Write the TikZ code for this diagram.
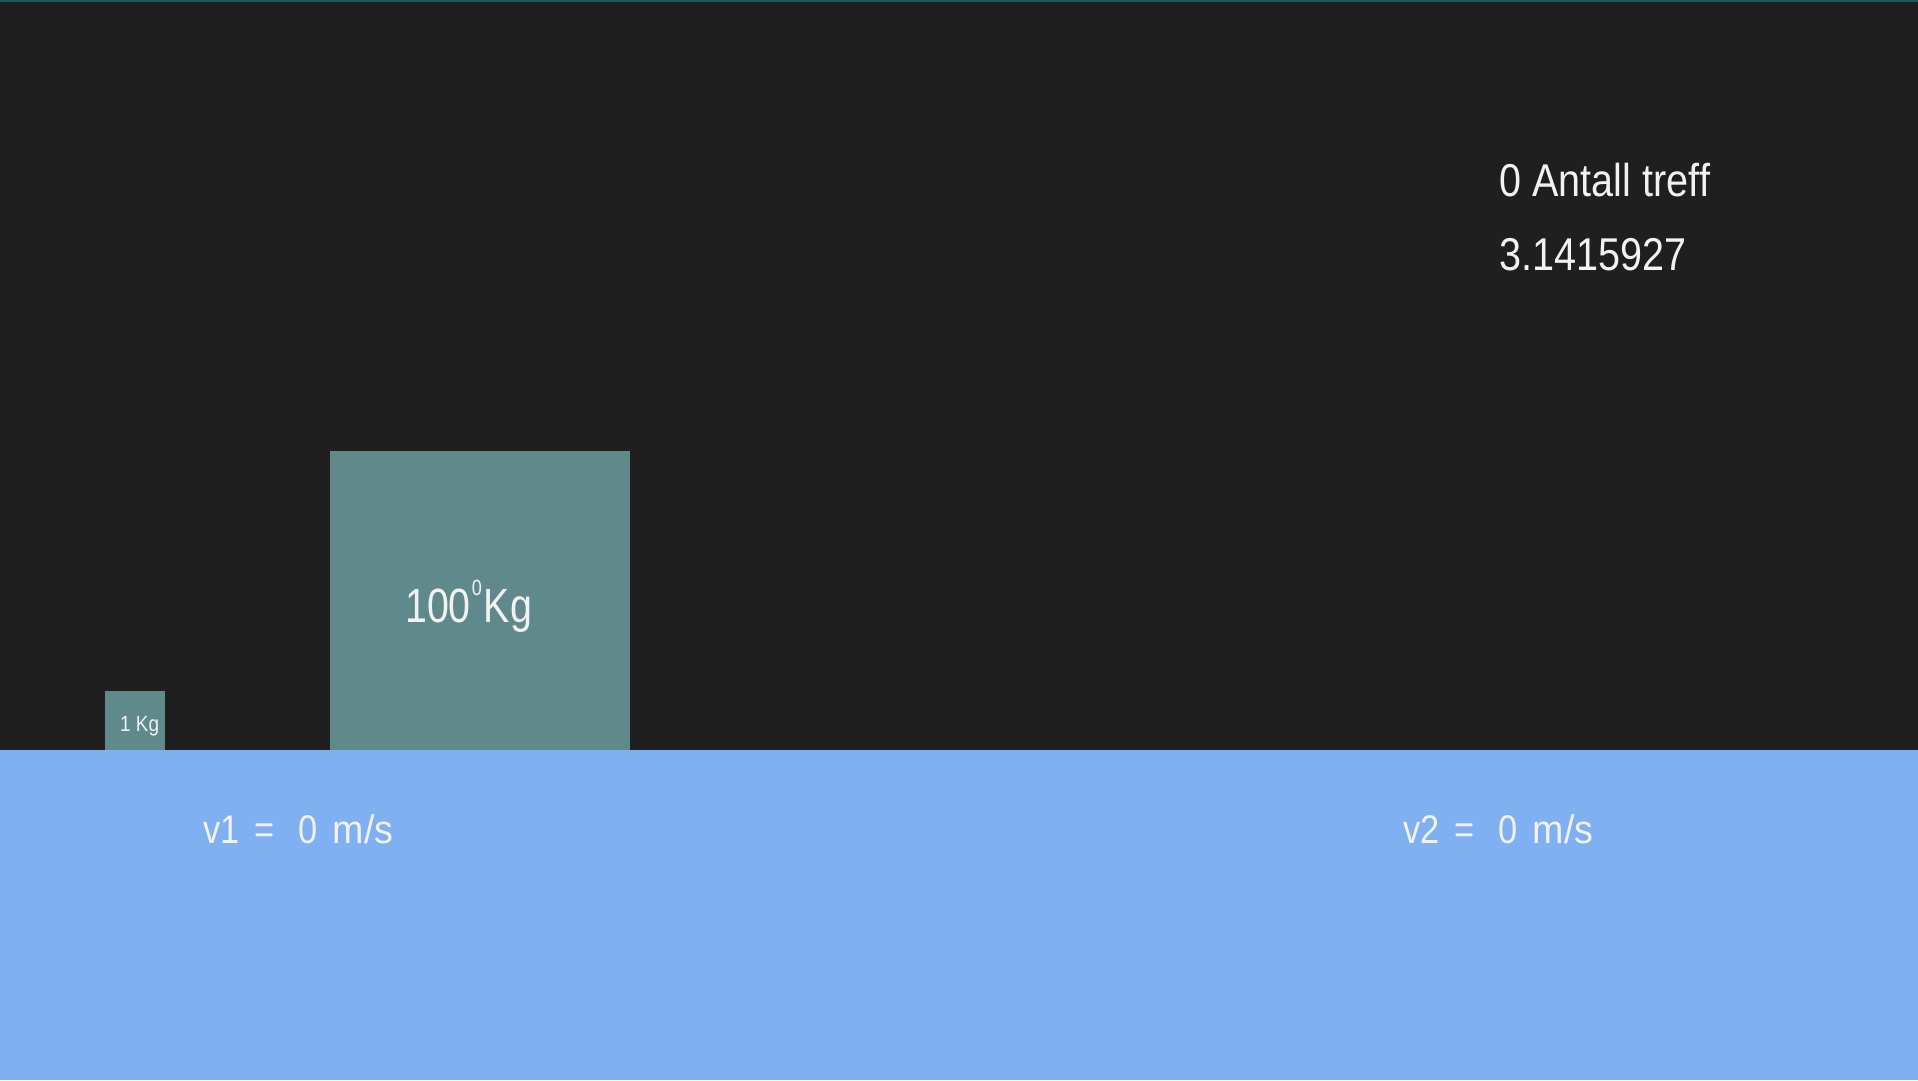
\documentclass[tikz,border=0pt]{standalone}
\usepackage{fontspec}
\setmainfont[FakeStretch=0.86, Ligatures=NoCommon]{Liberation Sans}
\definecolor{bgdark}{HTML}{1F1F1F}
\definecolor{boxteal}{HTML}{5F898A}
\definecolor{groundblue}{HTML}{7EB0F2}
\definecolor{topline}{HTML}{1E5A66}
\definecolor{txt}{HTML}{F2F2F2}
\tikzset{
  lbl/.style={anchor=base west, inner sep=0pt, text=txt},
  massbox/.style={fill=boxteal, draw=none}
}
\newcommand{\widerms}{{\addfontfeature{FakeStretch=0.94}m/s}}
\begin{document}
\begin{tikzpicture}[x=1pt,y=-1pt]
\useasboundingbox (0,0) rectangle (1918,1080);
\fill[bgdark] (0,0) rectangle (1918,1080);
\fill[topline] (0,0) rectangle (1918,2);
\fill[groundblue] (0,750) rectangle (1918,1080);
\node[massbox, inner sep=0pt, minimum width=60pt, minimum height=59pt, anchor=north west] (small) at (105,691) {};
\node[massbox, inner sep=0pt, minimum width=300pt, minimum height=299pt, anchor=north west] (big) at (330,451) {};
\node[lbl, font=\fontsize{22}{22}\selectfont] (smalllbl) at (120,731) {1 Kg};
\node[lbl, font=\fontsize{48}{48}\selectfont\addfontfeature{FakeStretch=0.82}] (biglbl) at (405,622) {100\hspace{1pt}\raisebox{27pt}{\fontsize{22}{22}\selectfont 0}\hspace{2pt}Kg};
\node[lbl, font=\fontsize{46}{46}\selectfont] (hits) at (1499,196) {0 Antall tref\kern0ptf};
\node[lbl, font=\fontsize{46}{46}\selectfont] (pi) at (1499,270) {3.1415927};
\node[lbl, font=\fontsize{40}{40}\selectfont] (v1) at (203,843) {v1\hspace{15pt}=\hspace{24pt}0\hspace{15pt}\widerms};
\node[lbl, font=\fontsize{40}{40}\selectfont] (v2) at (1403,843) {v2\hspace{15pt}=\hspace{24pt}0\hspace{15pt}\widerms};
\end{tikzpicture}
\end{document}
